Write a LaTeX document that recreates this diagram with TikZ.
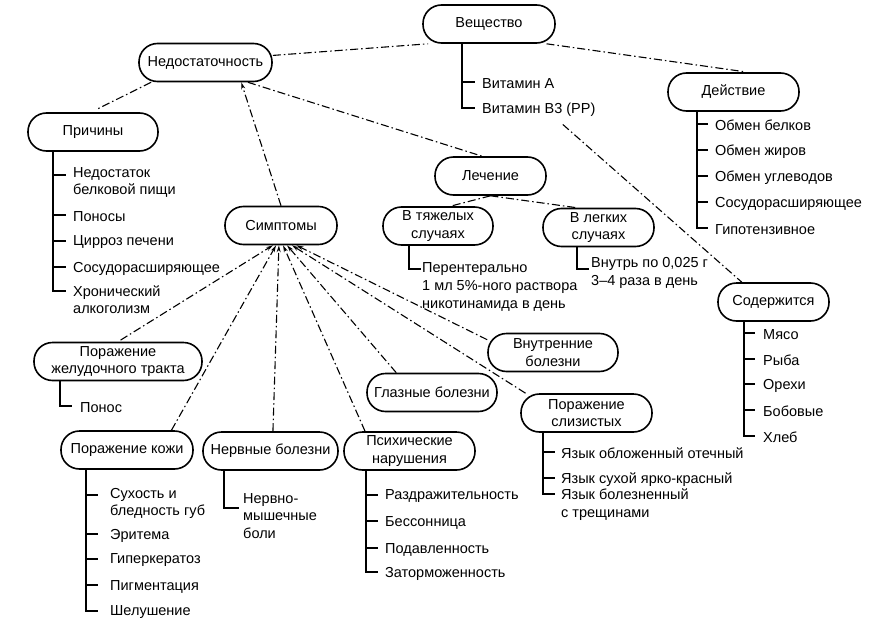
\documentclass[tikz,border=0pt]{standalone}
\usepackage{fontspec}
\setmainfont{Liberation Sans}
\usetikzlibrary{arrows.meta,calc}
\begin{document}
\begin{tikzpicture}[x=1pt,y=-1pt,
  font=\fontsize{14.5}{17.5}\selectfont,
  pill/.style={draw, line width=1.6pt, rounded corners=18.5pt, minimum height=38pt, inner sep=1pt, align=center},
  item/.style={anchor=west, inner sep=0pt, align=left},
  bar/.style={line width=1.6pt},
  dd/.style={line width=1.1pt, dash pattern=on 8pt off 3pt on 1.5pt off 3pt},
  arr/.style={dd, -{Stealth[length=7pt,width=4pt]}}]
\useasboundingbox (0,0) rectangle (889,637);

% ---- pills
\node[pill, minimum width=132pt] (ves) at (489,24) {Вещество};
\node[pill, minimum width=133pt] (nedo) at (205.5,62.5) {Недостаточность};
\node[pill, minimum width=130pt] (prich) at (93,132) {Причины};
\node[pill, minimum width=112pt] (simp) at (281,225.5) {Симптомы};
\node[pill, minimum width=111pt] (lech) at (490.5,176) {Лечение};
\node[pill, minimum width=110pt] (tyazh) at (438,226) {В тяжелых\\случаях};
\node[pill, minimum width=111pt] (legk) at (598.5,227.5) {В легких\\случаях};
\node[pill, minimum width=131pt] (dei) at (733.5,92) {Действие};
\node[pill, minimum width=111pt] (sod) at (773.5,302) {Содержится};
\node[pill, minimum width=168pt] (zhel) at (118,361.5) {Поражение\\желудочного тракта};
\node[pill, minimum width=132pt] (kozha) at (127,450) {Поражение кожи};
\node[pill, minimum width=135pt] (nerv) at (270.5,451) {Нервные болезни};
\node[pill, minimum width=131pt] (psih) at (409.5,451) {Психические\\нарушения};
\node[pill, minimum width=130pt] (glaz) at (432,392.5) {Глазные болезни};
\node[pill, minimum width=130pt] (vnutr) at (553,352.5) {Внутренние\\болезни};
\node[pill, minimum width=131pt] (sliz) at (586.5,413) {Поражение\\слизистых};

% ---- list: Вещество
\node[item] (vA) at (482,83.5) {Витамин А};
\node[item] (vB) at (482,109.5) {Витамин В3 (РР)};
\draw[bar] (462,43) -- (462,108) -- (475,108) (462,82) -- (475,82);

% ---- list: Причины
\node[item] (p1) at (73,182.5) {Недостаток\\белковой пищи};
\node[item] (p2) at (73,216.5) {Поносы};
\node[item] (p3) at (73,242.5) {Цирроз печени};
\node[item] (p4) at (73,268.5) {Сосудорасширяющее};
\node[item] (p5) at (73,299.5) {Хронический\\алкоголизм};
\draw[bar] (53,151) -- (53,291) -- (66,291)
  (53,175) -- (66,175) (53,215) -- (66,215) (53,241) -- (66,241) (53,267) -- (66,267);

% ---- list: Действие
\node[item] (d1) at (715,125.5) {Обмен белков};
\node[item] (d2) at (715,151.5) {Обмен жиров};
\node[item] (d3) at (715,177.5) {Обмен углеводов};
\node[item] (d4) at (715,203.5) {Сосудорасширяющее};
\node[item] (d5) at (715,229.5) {Гипотензивное};
\draw[bar] (697,111) -- (697,228) -- (708,228)
  (697,124) -- (708,124) (697,150) -- (708,150) (697,176) -- (708,176) (697,202) -- (708,202);

% ---- list: Содержится
\node[item] (s1) at (763,334.5) {Мясо};
\node[item] (s2) at (763,360.5) {Рыба};
\node[item] (s3) at (763,385.5) {Орехи};
\node[item] (s4) at (763,411.5) {Бобовые};
\node[item] (s5) at (763,437.5) {Хлеб};
\draw[bar] (744,321) -- (744,436) -- (755,436)
  (744,333) -- (755,333) (744,359) -- (755,359) (744,384) -- (755,384) (744,410) -- (755,410);

% ---- Лечение branches
\node[item, font=\fontsize{14.5}{18}\selectfont] (t1) at (422,286.5) {Перентерально\\1 мл 5\%-ного раствора\\никотинамида в день};
\draw[bar] (409,245) -- (409,269) -- (421,269);
\node[item] (l1) at (591,273) {Внутрь по 0,025 г\\3--4 раза в день};
\draw[bar] (577,247) -- (577,269) -- (589,269);

% ---- Поражение желудочного тракта
\node[item] (z1) at (80,407.5) {Понос};
\draw[bar] (60,381) -- (60,406) -- (72,406);

% ---- Поражение кожи
\node[item] (k1) at (110,503.5) {Сухость и\\бледность губ};
\node[item] (k2) at (110,535.5) {Эритема};
\node[item] (k3) at (110,560.5) {Гиперкератоз};
\node[item] (k4) at (110,586.5) {Пигментация};
\node[item] (k5) at (110,612.5) {Шелушение};
\draw[bar] (86,469) -- (86,611) -- (98,611)
  (86,495) -- (98,495) (86,534) -- (98,534) (86,559) -- (98,559) (86,585) -- (98,585);

% ---- Нервные болезни
\node[item] (n1) at (243,516) {Нервно-\\мышечные\\боли};
\draw[bar] (224,470) -- (224,508) -- (239,508);

% ---- Психические нарушения
\node[item] (ps1) at (385,496.5) {Раздражительность};
\node[item] (ps2) at (385,522.5) {Бессонница};
\node[item] (ps3) at (385,549.5) {Подавленность};
\node[item] (ps4) at (385,573.5) {Заторможенность};
\draw[bar] (366,470) -- (366,572) -- (378,572)
  (366,495) -- (378,495) (366,521) -- (378,521) (366,548) -- (378,548);

% ---- Поражение слизистых
\node[item] (sl1) at (561,453.5) {Язык обложенный отечный};
\node[item] (sl2) at (561,479.5) {Язык сухой ярко-красный};
\node[item] (sl3) at (561,504.5) {Язык болезненный\\с трещинами};
\draw[bar] (543,432) -- (543,494) -- (555,494)
  (543,452) -- (555,452) (543,478) -- (555,478);

% ---- dash-dot connectors
\draw[dd] (nedo.6) -- (ves.198);
\draw[dd, shorten >=3pt] (ves.-19) -- (dei.54);
\draw[dd, shorten >=6pt] (nedo.200) -- (prich.96);
\draw[arr] (simp.north) -- (nedo.-29);
\draw[dd] (nedo.-25) -- (lech.113);
\draw[dd] (lech.south) -- (tyazh.58);
\draw[dd] (lech.south) -- (legk.138);
\draw[dd] ($(vB.south)+(24,8)$) -- (sod.148);

\draw[arr, shorten <=3pt] (zhel.north) -- (simp.-112);
\draw[arr] (kozha.24) -- (simp.-104);
\draw[arr] (nerv.83) -- (simp.-96);
\draw[arr] (psih.156) -- (simp.-84);
\draw[arr] (glaz.151) -- (simp.-73);
\draw[arr] (sliz.162) -- (simp.-61);
\draw[arr] (vnutr.169) -- (simp.-52);
\end{tikzpicture}
\end{document}
